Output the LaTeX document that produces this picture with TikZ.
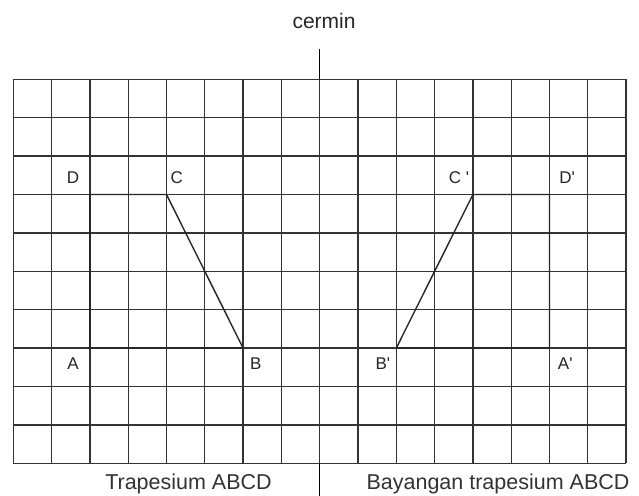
\documentclass[tikz,border=0pt]{standalone}
\usepackage{fontspec}
\setmainfont{Liberation Sans}
\begin{document}
\begin{tikzpicture}[x=1pt,y=1pt,
  gridline/.style={line width=1.3pt, draw=black!80},
  shapeline/.style={line width=1.4pt, draw=black!85, line join=round},
  mirrorline/.style={line width=0.9pt, draw=black},
  ptlabel/.style={font=\fontsize{17}{20}\selectfont, text=black!85, inner sep=0pt},
  caption/.style={font=\fontsize{21.5}{24}\selectfont, text=black!80, inner sep=0pt, anchor=base}
]
\useasboundingbox (0,0) rectangle (639,495);
\fill[white] (0,0) rectangle (639,495);
\begin{scope}[shift={(13.3,415.7)}, x=38.3pt, y=-38.4pt]
  % grid
  \foreach \i in {0,...,16} {\draw[gridline] (\i,0) -- (\i,10);}
  \foreach \j in {0,...,10} {\draw[gridline] (0,\j) -- (16,\j);}
  % points
  \coordinate (A) at (2,7);
  \coordinate (B) at (6,7);
  \coordinate (C) at (4,3);
  \coordinate (D) at (2,3);
  \coordinate (A') at (14,7);
  \coordinate (B') at (10,7);
  \coordinate (C') at (12,3);
  \coordinate (D') at (14,3);
  % trapezoids
  \draw[shapeline] (A) -- (D) -- (C) -- (B) -- cycle;
  \draw[shapeline] (A') -- (D') -- (C') -- (B') -- cycle;
  % labels
  \node[ptlabel] (lD) at (1.56,2.57) {D};
  \node[ptlabel] (lC) at (4.27,2.57) {C};
  \node[ptlabel] (lA) at (1.56,7.41) {A};
  \node[ptlabel] (lB) at (6.33,7.41) {B};
  \node[ptlabel] (lC2) at (11.64,2.57) {C \textquotesingle};
  \node[ptlabel] (lD2) at (14.46,2.57) {D\textquotesingle};
  \node[ptlabel] (lB2) at (9.65,7.41) {B\textquotesingle};
  \node[ptlabel] (lA2) at (14.41,7.41) {A\textquotesingle};
  % mirror
  \coordinate (mtop) at (8,-0.79);
  \coordinate (mgt) at (8,0);
  \coordinate (mgb) at (8,10);
  \coordinate (mbot) at (8,10.85);
  \draw[mirrorline] (mtop) -- (mgt);
  \draw[mirrorline] (mgb) -- (mbot);
\end{scope}
\node[font=\fontsize{21}{24}\selectfont, text=black!85, inner sep=0pt] (cermin) at (324,474) {cermin};
\node[caption] (t1) at (188.5,6) {Trapesium ABCD};
\node[caption] (t2) at (498,6) {Bayangan trapesium ABCD};
\end{tikzpicture}
\end{document}
